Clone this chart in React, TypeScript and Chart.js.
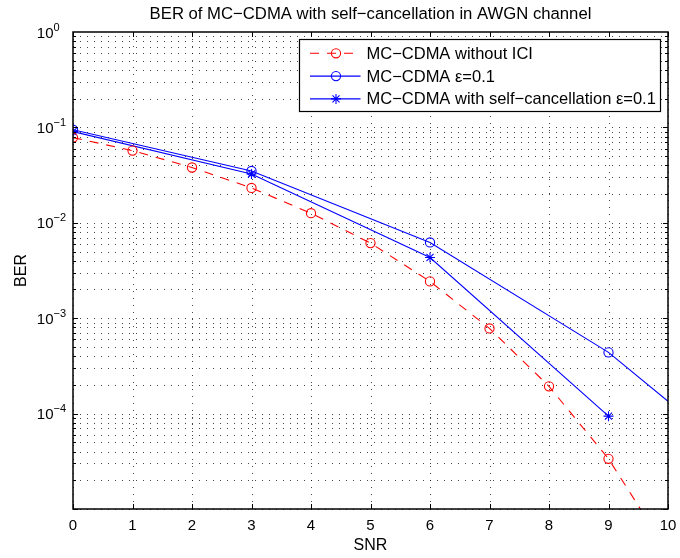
import React, { useEffect, useRef } from "react";
import { Chart, registerables } from "chart.js";

Chart.register(...registerables);

// ---------- data ----------
const TITLE = "BER of MC\u2212CDMA with self\u2212cancellation in AWGN channel";
const X_LABEL = "SNR";
const Y_LABEL = "BER";
const X_TICKS = [0, 1, 2, 3, 4, 5, 6, 7, 8, 9, 10];
const Y_TICK_EXPONENTS = [0, -1, -2, -3, -4];
const Y_GRID_DECADES = [-5, -4, -3, -2, -1];
const Y_GRID_MULTIPLIERS = [1, 2, 3, 4, 5, 6, 7, 8, 9];

const SERIES_LABELS = [
  "MC\u2212CDMA without ICI",
  "MC\u2212CDMA \u03b5=0.1",
  "MC\u2212CDMA with self\u2212cancellation \u03b5=0.1",
];

const SNR_NO_ICI = [0, 1, 2, 3, 4, 5, 6, 7, 8, 9, 10];
const BER_NO_ICI = [0.0782, 0.0571, 0.038, 0.0232, 0.0126, 0.00613, 0.00243, 0.000781, 0.000193, 3.36e-5, 3.5e-6];

const SNR_EPS = [0, 3, 6, 9, 12];
const BER_EPS = [0.0946, 0.0349, 0.00622, 0.000438, 1.27e-5];

const SNR_SELF = [0, 3, 6, 9];
const BER_SELF = [0.0904, 0.0325, 0.00433, 9.4e-5];

// ---------- styles ----------
const FONT = "'Liberation Sans', Arial, Helvetica, sans-serif";
const FS = 16;
const TITLE_FS = 16.7;
const LEGEND_FS = 16.5;
const TICK_FS = 15;
const RED = "#ff0000";
const BLUE = "#0000ff";

function toPoints(xs: number[], ys: number[]) {
  return xs.map((x, i) => ({ x, y: ys[i] }));
}

function drawMarker(ctx: CanvasRenderingContext2D, style: string, cx: number, cy: number, r: number, color: string) {
  ctx.save();
  ctx.setLineDash([]);
  ctx.strokeStyle = color;
  ctx.lineWidth = 1.1;
  ctx.beginPath();
  if (style === "circle") {
    ctx.arc(cx, cy, r, 0, Math.PI * 2);
  } else {
    for (let k = 0; k < 4; k++) {
      const ang = (k * Math.PI) / 4;
      const dx = Math.cos(ang) * r;
      const dy = Math.sin(ang) * r;
      ctx.moveTo(cx - dx, cy - dy);
      ctx.lineTo(cx + dx, cy + dy);
    }
  }
  ctx.stroke();
  ctx.restore();
}

const matlabPlugin = {
  id: "matlabAxes",
  beforeDatasetsDraw(chart: any) {
    const { ctx, chartArea: a, scales } = chart;
    const x = scales.x;
    const y = scales.y;
    ctx.save();
    ctx.strokeStyle = "rgba(0,0,0,0.72)";
    ctx.lineWidth = 1;
    ctx.setLineDash([1, 6]);
    for (const xv of X_TICKS) {
      const px = Math.round(x.getPixelForValue(xv)) + 0.5;
      ctx.beginPath();
      ctx.moveTo(px, a.bottom);
      ctx.lineTo(px, a.top);
      ctx.stroke();
    }
    for (const d of Y_GRID_DECADES) {
      for (const m of Y_GRID_MULTIPLIERS) {
        const v = m * Math.pow(10, d);
        const py = Math.round(y.getPixelForValue(v)) + 0.5;
        ctx.beginPath();
        ctx.moveTo(a.left, py);
        ctx.lineTo(a.right, py);
        ctx.stroke();
      }
    }
    ctx.restore();
  },
  afterDatasetsDraw(chart: any) {
    const { ctx, chartArea: a, scales } = chart;
    const x = scales.x;
    const y = scales.y;
    ctx.save();
    ctx.setLineDash([]);
    ctx.strokeStyle = "#000";
    ctx.lineWidth = 1;
    // ticks
    ctx.beginPath();
    for (const xv of X_TICKS) {
      const px = Math.round(x.getPixelForValue(xv)) + 0.5;
      ctx.moveTo(px, a.bottom);
      ctx.lineTo(px, a.bottom - 5);
      ctx.moveTo(px, a.top);
      ctx.lineTo(px, a.top + 5);
    }
    for (const d of Y_GRID_DECADES) {
      for (const m of Y_GRID_MULTIPLIERS) {
        const v = m * Math.pow(10, d);
        const py = Math.round(y.getPixelForValue(v)) + 0.5;
        const len = m === 1 ? 5 : 3;
        ctx.moveTo(a.left, py);
        ctx.lineTo(a.left + len, py);
        ctx.moveTo(a.right, py);
        ctx.lineTo(a.right - len, py);
      }
    }
    ctx.stroke();
    // box
    ctx.lineWidth = 1.5;
    ctx.strokeRect(a.left, a.top, a.right - a.left, a.bottom - a.top);

    // y tick labels (10^e)
    ctx.fillStyle = "#000";
    for (const e of Y_TICK_EXPONENTS) {
      const py = y.getPixelForValue(Math.pow(10, e));
      ctx.font = `${TICK_FS}px ${FONT}`;
      ctx.textAlign = "right";
      ctx.textBaseline = "alphabetic";
      ctx.fillText("10", a.left - 19.5, py + 5.5);
      ctx.font = `${Math.round(TICK_FS * 0.73)}px ${FONT}`;
      ctx.textAlign = "left";
      ctx.fillText(e === 0 ? "0" : "\u2212" + Math.abs(e), a.left - 19.5, py - 1.5);
    }

    // axis titles
    const cx = (a.left + a.right) / 2;
    const cy = (a.top + a.bottom) / 2;
    ctx.textAlign = "center";
    ctx.textBaseline = "alphabetic";
    ctx.font = `${FS}px ${FONT}`;
    ctx.fillText(X_LABEL, cx, a.bottom + 41);
    ctx.font = `${TITLE_FS}px ${FONT}`;
    ctx.fillText(TITLE, cx, a.top - 13.5);
    ctx.save();
    ctx.font = `${FS}px ${FONT}`;
    ctx.translate(a.left - 47, cy);
    ctx.rotate(-Math.PI / 2);
    ctx.fillText(Y_LABEL, 0, 0);
    ctx.restore();

    // legend
    const lx = a.left + 226.5;
    const ly = a.top + 7.5;
    const lw = 361;
    const lh = 72;
    ctx.fillStyle = "#fff";
    ctx.fillRect(lx, ly, lw, lh);
    ctx.lineWidth = 1.2;
    ctx.strokeStyle = "#000";
    ctx.strokeRect(lx, ly, lw, lh);
    chart.data.datasets.forEach((ds: any, i: number) => {
      const rowY = ly + 13.8 + i * 22.8;
      ctx.save();
      ctx.strokeStyle = ds.borderColor;
      ctx.lineWidth = 1.1;
      ctx.setLineDash(ds.borderDash || []);
      ctx.beginPath();
      ctx.moveTo(lx + 10.5, rowY);
      ctx.lineTo(lx + 61, rowY);
      ctx.stroke();
      ctx.restore();
      drawMarker(ctx, ds.pointStyle, lx + 36.5, rowY, ds.pointStyle === "circle" ? 4.6 : 5, ds.borderColor);
      ctx.fillStyle = "#000";
      ctx.font = `${LEGEND_FS}px ${FONT}`;
      ctx.textAlign = "left";
      ctx.textBaseline = "middle";
      ctx.fillText(ds.label, lx + 67, rowY + 1);
    });
    ctx.restore();
  },
};

export default function App() {
  const ref = useRef<HTMLCanvasElement>(null);
  useEffect(() => {
    if (!ref.current) return;
    const chart = new Chart(ref.current, {
      type: "line",
      data: {
        datasets: [
          {
            label: SERIES_LABELS[0],
            data: toPoints(SNR_NO_ICI, BER_NO_ICI),
            borderColor: RED,
            borderWidth: 1.1,
            borderDash: [9, 8],
            pointStyle: "circle",
            pointRadius: 4.6,
            pointBorderWidth: 1.1,
            pointBorderColor: RED,
            pointBackgroundColor: "rgba(0,0,0,0)",
            tension: 0,
          },
          {
            label: SERIES_LABELS[1],
            data: toPoints(SNR_EPS, BER_EPS),
            borderColor: BLUE,
            borderWidth: 1.1,
            pointStyle: "circle",
            pointRadius: 4.6,
            pointBorderWidth: 1.1,
            pointBorderColor: BLUE,
            pointBackgroundColor: "rgba(0,0,0,0)",
            tension: 0,
          },
          {
            label: SERIES_LABELS[2],
            data: toPoints(SNR_SELF, BER_SELF),
            borderColor: BLUE,
            borderWidth: 1.1,
            pointStyle: "star",
            pointRadius: 5,
            pointBorderWidth: 1.1,
            pointBorderColor: BLUE,
            pointBackgroundColor: "rgba(0,0,0,0)",
            tension: 0,
          },
        ],
      },
      options: {
        responsive: false,
        animation: false,
        devicePixelRatio: 1,
        layout: { padding: { left: 0, right: 12, top: 32, bottom: 0 } },
        plugins: {
          legend: { display: false },
          title: { display: false },
          tooltip: { enabled: false },
        },
        scales: {
          x: {
            type: "linear",
            min: 0,
            max: 10,
            afterBuildTicks: (s: any) => {
              s.ticks = X_TICKS.map((v) => ({ value: v }));
            },
            ticks: {
              font: { family: FONT, size: TICK_FS },
              color: "#000",
              padding: 8,
              maxRotation: 0,
              autoSkip: false,
            },
            grid: { display: false, drawTicks: false },
            border: { display: false },
            afterFit: (s: any) => {
              s.height = 49;
              s.paddingLeft = 0;
              s.paddingRight = 0;
            },
          },
          y: {
            type: "logarithmic",
            min: 1e-5,
            max: 1,
            ticks: { display: false },
            grid: { display: false, drawTicks: false },
            border: { display: false },
            afterFit: (s: any) => {
              s.width = 73;
              s.paddingTop = 0;
              s.paddingBottom = 0;
            },
          },
        },
      } as any,
      plugins: [matlabPlugin],
    });
    return () => chart.destroy();
  }, []);
  return (
    <div style={{ position: "fixed", left: 0, top: 0, width: 680, height: 558, background: "#fff" }}>
      <canvas ref={ref} width={680} height={558} style={{ display: "block" }} />
    </div>
  );
}
